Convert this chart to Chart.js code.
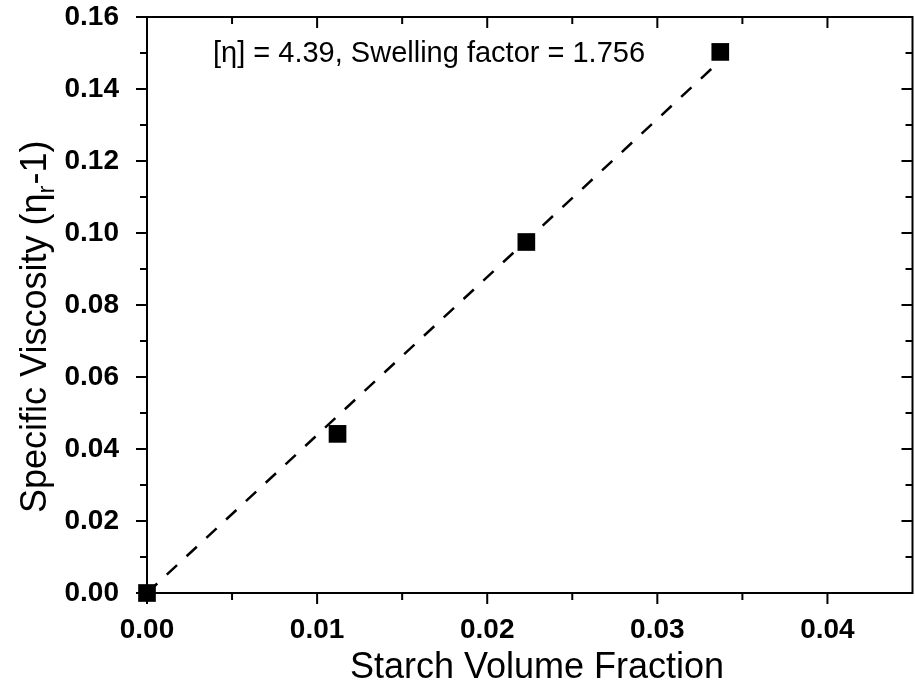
<!DOCTYPE html>
<html>
<head>
<meta charset="utf-8">
<script src="https://cdn.jsdelivr.net/npm/chart.js@4.4.1/dist/chart.umd.min.js"></script>
<style>
  html, body { margin: 0; padding: 0; background: #fff; overflow: hidden; }
  #wrap { width: 915px; height: 689px; overflow: hidden; }
</style>
</head>
<body>
<div id="wrap"><canvas id="viscChart" width="925" height="689"></canvas></div>
<script>
// measured points
const volumeFraction = [0, 0.0112, 0.0223, 0.0337];
const specificViscosity = [0, 0.0442, 0.0975, 0.1503];

// dashed linear fit
const fitX = [0, 0.0335];
const fitY = [0, 0.147];

const xMajorTicks = [0, 0.01, 0.02, 0.03, 0.04];
const xMinorTicks = [0.005, 0.015, 0.025, 0.035];
const yMajorTicks = [0, 0.02, 0.04, 0.06, 0.08, 0.10, 0.12, 0.14, 0.16];
const yMinorTicks = [0.01, 0.03, 0.05, 0.07, 0.09, 0.11, 0.13, 0.15];

const annotationText = "[\u03b7] = 4.39, Swelling factor = 1.756";
const xTitle = "Starch Volume Fraction";

const FONT = '"Liberation Sans", Arial, sans-serif';

const framePlugin = {
  id: "frame",
  afterDraw(chart) {
    const ctx = chart.ctx;
    const xs = chart.scales.x, ys = chart.scales.y;
    const a = chart.chartArea;
    ctx.save();
    ctx.strokeStyle = "#000";
    ctx.lineWidth = 2;
    ctx.strokeRect(a.left, a.top, a.right - a.left, a.bottom - a.top);

    const tick = (x1, y1, x2, y2) => {
      ctx.beginPath(); ctx.moveTo(x1, y1); ctx.lineTo(x2, y2); ctx.stroke();
    };
    xMajorTicks.forEach(v => {
      const px = xs.getPixelForValue(v);
      tick(px, a.bottom, px, a.bottom + 11);
      tick(px, a.top, px, a.top + 11);
    });
    xMinorTicks.forEach(v => {
      const px = xs.getPixelForValue(v);
      tick(px, a.bottom, px, a.bottom + 7);
      tick(px, a.top, px, a.top + 7);
    });
    yMajorTicks.forEach(v => {
      const py = ys.getPixelForValue(v);
      tick(a.left - 11, py, a.left, py);
      tick(a.right - 11, py, a.right, py);
    });
    yMinorTicks.forEach(v => {
      const py = ys.getPixelForValue(v);
      tick(a.left - 7, py, a.left, py);
      tick(a.right - 7, py, a.right, py);
    });

    // annotation
    ctx.fillStyle = "#000";
    ctx.font = "29px " + FONT;
    ctx.textAlign = "left";
    ctx.textBaseline = "alphabetic";
    ctx.fillText(annotationText, 213, 62);

    // x title
    ctx.font = "36px " + FONT;
    ctx.textAlign = "center";
    ctx.fillText(xTitle, 537, 678);

    // y title with subscript
    ctx.translate(46, 513);
    ctx.rotate(-Math.PI / 2);
    ctx.textAlign = "left";
    ctx.font = "36px " + FONT;
    const part1 = "Specific Viscosity (\u03b7";
    ctx.fillText(part1, 0, 0);
    let w = ctx.measureText(part1).width;
    ctx.font = "24px " + FONT;
    ctx.fillText("r", w, 8);
    w += ctx.measureText("r").width;
    ctx.font = "36px " + FONT;
    ctx.fillText("-1)", w + 1, 0);
    ctx.restore();
  }
};

function createChart() {
  const ctx = document.getElementById("viscChart").getContext("2d");
  new Chart(ctx, {
    type: "scatter",
    data: {
      datasets: [
        {
          label: "fit",
          data: fitX.map((x, i) => ({ x: x, y: fitY[i] })),
          showLine: true,
          borderColor: "#000",
          borderWidth: 2.5,
          borderDash: [14, 13],
          pointRadius: 0,
          fill: false,
          clip: false,
          order: 2
        },
        {
          label: "data",
          data: volumeFraction.map((x, i) => ({ x: x, y: specificViscosity[i] })),
          pointStyle: "rect",
          pointRadius: 12.5,
          backgroundColor: "#000",
          borderColor: "#000",
          borderWidth: 0,
          clip: false,
          order: 1
        }
      ]
    },
    options: {
      responsive: false,
      animation: false,
      layout: { padding: { top: 17, right: 4, left: 0, bottom: 0 } },
      plugins: {
        legend: { display: false },
        tooltip: { enabled: false }
      },
      scales: {
        x: {
          type: "linear",
          min: 0,
          max: 0.045,
          afterFit: s => { s.height = 96; s.paddingLeft = 0; s.paddingRight = 0; },
          afterBuildTicks: s => { s.ticks = xMajorTicks.map(v => ({ value: v })); },
          grid: { display: false },
          border: { display: false },
          ticks: {
            color: "#000",
            padding: 12,
            font: { family: FONT, size: 28, weight: "bold" },
            callback: v => v.toFixed(2)
          }
        },
        y: {
          type: "linear",
          min: 0,
          max: 0.16,
          afterFit: s => { s.width = 147; s.paddingTop = 0; s.paddingBottom = 0; },
          afterBuildTicks: s => { s.ticks = yMajorTicks.map(v => ({ value: v })); },
          grid: { display: false },
          border: { display: false },
          ticks: {
            color: "#000",
            padding: 20,
            font: { family: FONT, size: 28, weight: "bold" },
            callback: v => v.toFixed(2)
          }
        }
      }
    },
    plugins: [framePlugin]
  });
}

window.addEventListener("load", createChart);
</script>
</body>
</html>
